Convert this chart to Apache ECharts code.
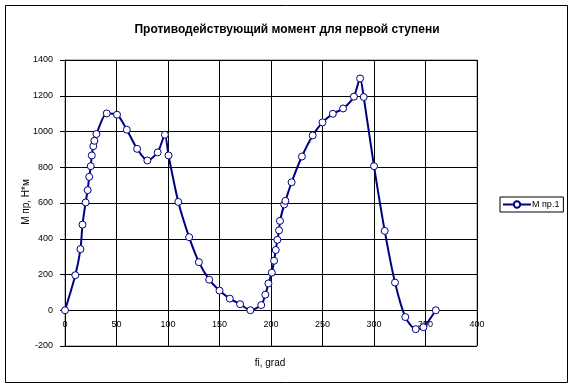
<!DOCTYPE html>
<html>
<head>
<meta charset="utf-8">
<script src="https://cdn.jsdelivr.net/npm/echarts@6/dist/echarts.min.js"></script>
<style>
html,body{margin:0;padding:0;background:#fff;}
#chart{width:574px;height:388px;}
</style>
</head>
<body>
<div id="chart"></div>
<script>
var chartTitle = 'Противодействующий момент для первой ступени';
var xName = 'fi, grad';
var yName = 'М пр, Н*м';
var seriesName = 'М пр.1';
var fiValues = [0,10,15,17,20,22,23.5,25,26,27.5,28.5,30.5,40.5,50.5,60,70,80,90,97,100.5,110,120.5,130,140,150,160,170,180,190.5,194.5,197.5,200.8,203,204.6,206.2,207.8,208.7,212.8,214,220,230,240.5,250,260,270,280.5,286.5,290,300,310.4,320.4,330.4,340.5,348,360];
var mValues = [0,196,342,479,603,672,746,806,866,918,948,986,1101,1094,1010,903,838,883,982,866,606,409,269,171,110,65,34,0,29,87,150,210,277,337,394,447,500,592,612,716,860,978,1051,1099,1129,1195,1297,1193,806,444,155,-38,-106,-95,0];
var xTicks = {min:0, max:400, interval:50};
var yTicks = {min:-200, max:1400, interval:200};

var font = 'Arial, "Liberation Sans", sans-serif';
var gridTop = 60, gridBottom = 42, chartH = 388;
var plotH = chartH - gridTop - gridBottom;
var zeroOffset = -plotH * (0 - yTicks.min) / (yTicks.max - yTicks.min);
var chart = echarts.init(document.getElementById('chart'), null, {renderer:'canvas'});
var data = fiValues.map(function(x,i){return [x, mValues[i]];});
chart.setOption({
  animation:false,
  backgroundColor:'#ffffff',
  title:{
    text:chartTitle, left:'center', top:19,
    textStyle:{fontFamily:font, fontSize:12, fontWeight:'bold', color:'#000'}
  },
  legend:{
    left:500, top:197, orient:'vertical',
    padding:[3,4,3,2],
    borderColor:'#000', borderWidth:1,
    itemWidth:28, itemHeight:8, itemGap:4,
    textStyle:{fontFamily:font, fontSize:9, color:'#000', padding:[0,0,0,-4]},
    data:[seriesName]
  },
  grid:{left:65, right:97, top:gridTop, bottom:gridBottom, show:true, borderColor:'#808080', borderWidth:1, backgroundColor:'#fff'},
  xAxis:{
    type:'value', min:xTicks.min, max:xTicks.max, interval:xTicks.interval,
    position:'bottom', offset:zeroOffset,
    axisLine:{show:true, onZero:false, lineStyle:{color:'#000', width:1}},
    axisTick:{show:true, inside:false, length:4, lineStyle:{color:'#000'}},
    axisLabel:{fontFamily:font, fontSize:9, color:'#000', margin:10, formatter:function(v){return String(v);}},
    splitLine:{show:true, lineStyle:{color:'#000', width:1}}
  },
  yAxis:{
    type:'value', min:yTicks.min, max:yTicks.max, interval:yTicks.interval,
    axisLine:{show:true, lineStyle:{color:'#000', width:1}},
    axisTick:{show:true, inside:false, length:5, lineStyle:{color:'#000'}},
    axisLabel:{fontFamily:font, fontSize:9, color:'#000', margin:12, formatter:function(v){return String(v);}},
    splitLine:{show:true, lineStyle:{color:'#000', width:1}}
  },
  graphic:[
    {type:'rect', shape:{x:5.5, y:5.5, width:562, height:377}, style:{fill:'none', stroke:'#000', lineWidth:1}, silent:true, z:-10},
    {type:'text', x:270, y:363, style:{text:xName, font:'10px ' + font, fill:'#000', textAlign:'center', textVerticalAlign:'middle'}},
    {type:'text', x:26, y:202, rotation:Math.PI/2, style:{text:yName, font:'10px ' + font, fill:'#000', textAlign:'center', textVerticalAlign:'middle'}}
  ],
  series:[{
    name:seriesName, type:'line', data:data,
    smooth:0.25,
    symbol:'circle', symbolSize:7,
    lineStyle:{color:'#000080', width:2},
    itemStyle:{color:'#ffffff', borderColor:'#000080', borderWidth:1},
    z:5
  }]
});
</script>
</body>
</html>
